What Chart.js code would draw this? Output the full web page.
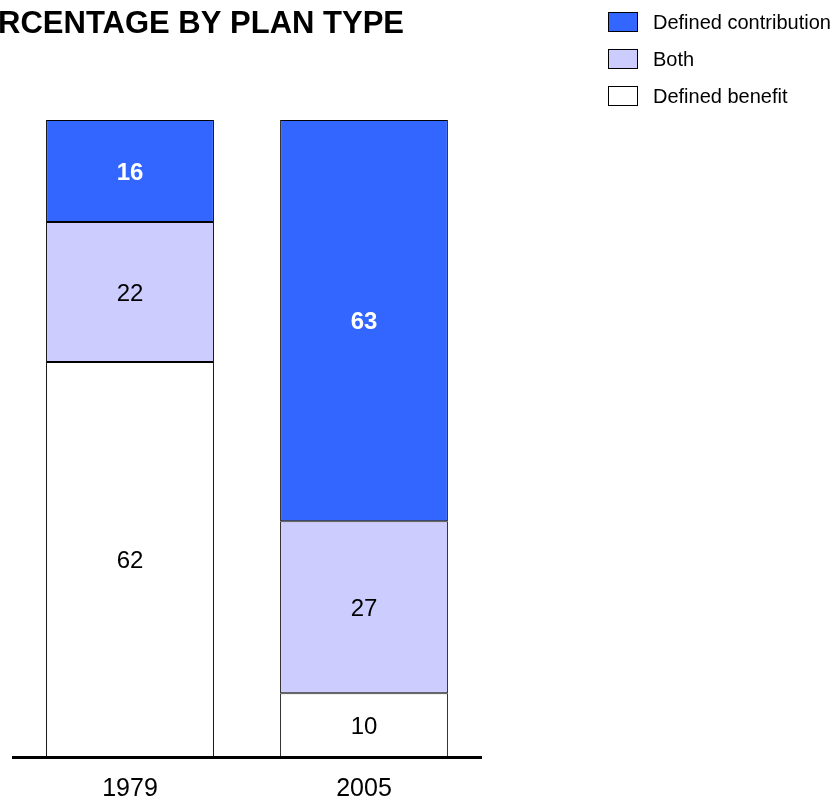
<!DOCTYPE html>
<html>
<head>
<meta charset="utf-8">
<script src="https://cdn.jsdelivr.net/npm/chart.js@4/dist/chart.umd.min.js"></script>
<style>
  html, body { margin: 0; padding: 0; background: #fff; }
  #wrap { width: 838px; height: 801px; }
</style>
</head>
<body>
<div id="wrap"><canvas id="planChart"></canvas></div>
<script>
var years = ["1979", "2005"];
var definedBenefit = [62, 10];
var both = [22, 27];
var definedContribution = [16, 63];

var FONT = "'Liberation Sans', Arial, sans-serif";

// title sits flush to the right of the plot, left part runs off the canvas
var titlePlugin = {
  id: "planTitle",
  afterDraw: function (chart) {
    var ctx = chart.ctx;
    ctx.save();
    ctx.font = "bold 31px " + FONT;
    ctx.fillStyle = "#000";
    ctx.textAlign = "right";
    ctx.textBaseline = "alphabetic";
    ctx.fillText("PERCENTAGE BY PLAN TYPE", 404, 33);
    ctx.restore();
  },
};

// legend in the top right, top series first
var legendPlugin = {
  id: "planLegend",
  afterDraw: function (chart) {
    var ctx = chart.ctx;
    var sets = chart.data.datasets.slice().reverse();
    ctx.save();
    ctx.font = "20px " + FONT;
    ctx.textBaseline = "middle";
    sets.forEach(function (ds, i) {
      var top = 12 + i * 37;
      ctx.fillStyle = ds.backgroundColor;
      ctx.fillRect(608.5, top + 0.5, 29, 19);
      ctx.strokeStyle = "#000";
      ctx.lineWidth = 1;
      ctx.strokeRect(608.5, top + 0.5, 29, 19);
      ctx.fillStyle = "#000";
      ctx.fillText(ds.label, 653, top + 11);
    });
    ctx.restore();
  },
};

// value in the middle of each segment
var valuePlugin = {
  id: "planValues",
  afterDatasetsDraw: function (chart) {
    var ctx = chart.ctx;
    ctx.save();
    ctx.textAlign = "center";
    ctx.textBaseline = "middle";
    chart.data.datasets.forEach(function (ds, di) {
      var meta = chart.getDatasetMeta(di);
      meta.data.forEach(function (bar, i) {
        var p = bar.getProps(["x", "y", "base"], true);
        ctx.font = (ds.boldLabel ? "bold " : "") + "24px " + FONT;
        ctx.fillStyle = ds.labelColor;
        ctx.fillText(ds.data[i], p.x, (p.y + p.base) / 2 + 2);
      });
    });
    ctx.restore();
  },
};

var ctx = document.getElementById("planChart").getContext("2d");

var planChart = new Chart(ctx, {
  type: "bar",
  data: {
    labels: years,
    datasets: [
      {
        label: "Defined benefit",
        data: definedBenefit,
        backgroundColor: "#FFFFFF",
        labelColor: "#000",
        boldLabel: false,
      },
      {
        label: "Both",
        data: both,
        backgroundColor: "#CCCCFF",
        labelColor: "#000",
        boldLabel: false,
      },
      {
        label: "Defined contribution",
        data: definedContribution,
        backgroundColor: "#3366FF",
        labelColor: "#FFF",
        boldLabel: true,
      },
    ],
  },
  options: {
    responsive: true,
    maintainAspectRatio: false,
    animation: false,
    datasets: {
      bar: {
        borderColor: "#000",
        borderWidth: 1,
        borderSkipped: false,
        barPercentage: 0.717,
        categoryPercentage: 1,
      },
    },
    layout: {
      padding: { left: 13, right: 357, top: 120, bottom: 0 },
    },
    plugins: {
      legend: { display: false },
      tooltip: { enabled: false },
    },
    scales: {
      x: {
        stacked: true,
        grid: { display: false, drawTicks: false },
        border: { display: true, width: 3, color: "#000" },
        ticks: {
          color: "#000",
          padding: 17,
          font: { family: FONT, size: 25 },
        },
        afterFit: function (scale) {
          scale.height = 44;
        },
      },
      y: {
        stacked: true,
        display: false,
        min: 0,
        max: 100,
      },
    },
  },
  plugins: [valuePlugin, titlePlugin, legendPlugin],
});
</script>
</body>
</html>
